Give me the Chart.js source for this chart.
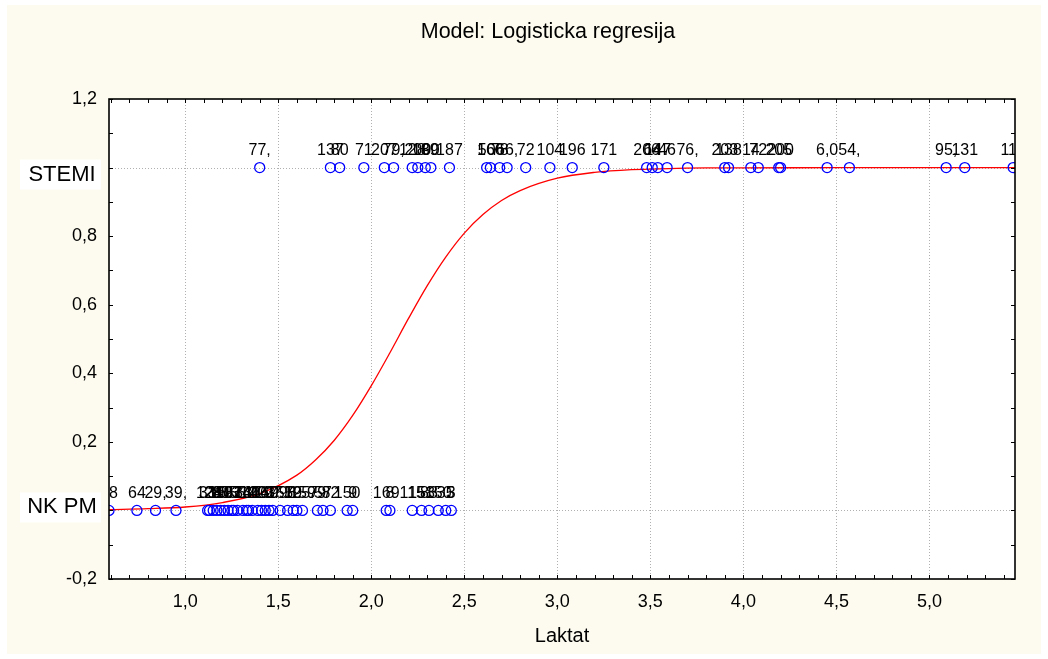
<!DOCTYPE html>
<html>
<head>
<meta charset="utf-8">
<title>Model: Logisticka regresija</title>
<script src="https://cdn.jsdelivr.net/npm/chart.js@4.4.1/dist/chart.umd.min.js"></script>
<style>
  html, body { margin: 0; padding: 0; background: #fff; }
  #wrap { width: 1048px; height: 659px; }
</style>
</head>
<body>
<div id="wrap"><canvas id="myChart" width="1048" height="659"></canvas></div>
<script>
// podaci
const stemiX = [1.40, 1.78, 1.83, 1.96, 2.07, 2.12, 2.22, 2.25, 2.29, 2.32, 2.42,
    2.62, 2.64, 2.69, 2.73, 2.83, 2.96, 3.08, 3.25, 3.48, 3.51, 3.54, 3.59, 3.70,
    3.90, 3.92, 4.04, 4.08, 4.19, 4.20, 4.45, 4.57, 5.09, 5.19, 5.45];
const stemiLabels = ["77,", "137", "80", "71", "207", "79,", "128", "200", "189", "90", "187",
    "50", "166", "78", "66,", "72", "104", "196", "171", "206", "64", "147", "46", "76,",
    "203", "138", "14", "72", "205", "200", "6,0", "54,", "95,", "131", "117"];

const nkpmX = [0.59, 0.74, 0.84, 0.95, 1.12, 1.13, 1.15, 1.17, 1.19, 1.21, 1.23, 1.25,
    1.26, 1.28, 1.31, 1.33, 1.34, 1.36, 1.39, 1.41, 1.43, 1.45, 1.47, 1.51, 1.55, 1.58,
    1.60, 1.63, 1.71, 1.74, 1.78, 1.87, 1.90, 2.08, 2.10, 2.22, 2.27, 2.31, 2.36, 2.40, 2.43];
const nkpmLabels = ["18", "64", "29,", "39,", "33", "124", "28", "16", "85", "99", "107", "13",
    "87", "55", "34", "140", "12", "37", "40", "123", "149", "67", "97", "157", "98", "59",
    "125", "159", "79", "57", "82", "150", "9", "169", "8", "115", "158", "83", "150", "35", "3"];

const stemiY = 1;
const nkpmY = 0;

// logisticka krivulja, ocitano sa slike
const curveX = [0.59, 0.8, 1.0, 1.2, 1.4, 1.6, 1.7, 1.8, 1.9, 2.0, 2.1, 2.2, 2.3, 2.4,
    2.5, 2.6, 2.7, 2.8, 3.0, 3.2, 3.4, 3.6, 3.8, 4.0, 4.5, 5.0, 5.46];
const curveY = [0.002, 0.005, 0.010, 0.023, 0.049, 0.103, 0.147, 0.204, 0.277, 0.364,
    0.460, 0.560, 0.655, 0.739, 0.809, 0.863, 0.904, 0.933, 0.969, 0.986, 0.994, 0.997,
    0.999, 0.999, 1.0, 1.0, 1.0];

const xTicks = [1.0, 1.5, 2.0, 2.5, 3.0, 3.5, 4.0, 4.5, 5.0];
const yTicks = [-0.2, 0, 0.2, 0.4, 0.6, 0.8, 1.0, 1.2];
const yGrid = [0, 1];
const xMin = 0.59;
const xMax = 5.46;

const FONT = "'Liberation Sans', Arial, sans-serif";

function fmt(v) {
    return v.toFixed(1).replace(".", ",");
}

// pozadina, mreza, okvir, oznake
const frame = {
    id: "frame",
    beforeDraw(chart) {
        let c = chart.ctx;
        let a = chart.chartArea;
        c.save();
        c.fillStyle = "#ffffff";
        c.fillRect(0, 0, chart.width, chart.height);
        c.fillStyle = "#fdfbef";
        c.fillRect(7, 5, 1034, 649);
        c.fillStyle = "#ffffff";
        c.fillRect(a.left, a.top, a.right - a.left, a.bottom - a.top);
        c.restore();
    },
    beforeDatasetsDraw(chart) {
        let c = chart.ctx;
        let a = chart.chartArea;
        let xs = chart.scales.x;
        let ys = chart.scales.y;
        c.save();
        c.strokeStyle = "#b0b0b0";
        c.lineWidth = 1;
        c.setLineDash([1, 2]);
        c.beginPath();
        xTicks.forEach((v) => {
            let px = Math.round(xs.getPixelForValue(v)) + 0.5;
            c.moveTo(px, a.top);
            c.lineTo(px, a.bottom);
        });
        yGrid.forEach((v) => {
            let py = Math.round(ys.getPixelForValue(v)) + 0.5;
            c.moveTo(a.left, py);
            c.lineTo(a.right, py);
        });
        c.stroke();
        c.restore();
    },
    afterDatasetsDraw(chart) {
        let c = chart.ctx;
        let a = chart.chartArea;
        let xs = chart.scales.x;
        let ys = chart.scales.y;

        // brojevi iznad tocaka
        c.save();
        c.beginPath();
        c.rect(a.left, 0, a.right - a.left, chart.height);
        c.clip();
        c.fillStyle = "#000";
        c.font = "16px " + FONT;
        c.textAlign = "center";
        c.textBaseline = "alphabetic";
        stemiX.forEach((x, i) => {
            c.fillText(stemiLabels[i], xs.getPixelForValue(x), ys.getPixelForValue(stemiY) - 13);
        });
        nkpmX.forEach((x, i) => {
            c.fillText(nkpmLabels[i], xs.getPixelForValue(x), ys.getPixelForValue(nkpmY) - 12);
        });
        c.restore();

        // okvir
        c.save();
        c.strokeStyle = "#000";
        c.lineWidth = 1.6;
        c.strokeRect(a.left, a.top, a.right - a.left, a.bottom - a.top);

        // crtice
        c.lineWidth = 1;
        c.beginPath();
        for (let i = 6; i <= 54; i++) {
            let px = Math.round(xs.getPixelForValue(i / 10)) + 0.5;
            c.moveTo(px, a.bottom);
            c.lineTo(px, a.bottom - 4);
            c.moveTo(px, a.top);
            c.lineTo(px, a.top + 4);
        }
        for (let i = -2; i <= 12; i++) {
            let py = Math.round(ys.getPixelForValue(i / 10)) + 0.5;
            c.moveTo(a.left, py);
            c.lineTo(a.left + 4, py);
            c.moveTo(a.right, py);
            c.lineTo(a.right - 4, py);
        }
        c.stroke();

        // kategorije na osi y
        c.font = "22px " + FONT;
        c.textAlign = "center";
        c.textBaseline = "middle";
        [["STEMI", stemiY, 7], ["NK PM", nkpmY, -3]].forEach(([txt, v, off]) => {
            let py = ys.getPixelForValue(v) + off;
            c.fillStyle = "#ffffff";
            c.fillRect(20, py - 15, 81, 30);
            c.fillStyle = "#000";
            c.fillText(txt, 62, py);
        });

        // naslov
        c.font = "21.5px " + FONT;
        c.fillText("Model: Logisticka regresija", 548, 32);
        c.restore();
    },
};

let ctx = document.getElementById("myChart").getContext("2d");
let chart = new Chart(ctx, {
    type: "scatter",
    data: {
        datasets: [
            {
                type: "line",
                label: "model",
                data: curveX.map((x, i) => ({ x: x, y: curveY[i] })),
                borderColor: "#ff0000",
                borderWidth: 1.3,
                pointRadius: 0,
                fill: false,
                cubicInterpolationMode: "monotone",
                clip: 0,
                order: 2,
            },
            {
                label: "STEMI",
                data: stemiX.map((x) => ({ x: x, y: stemiY })),
                pointRadius: 5,
                pointBorderColor: "#0000ff",
                pointBackgroundColor: "rgba(0,0,0,0)",
                pointBorderWidth: 1.3,
                clip: 0,
                order: 1,
            },
            {
                label: "NK PM",
                data: nkpmX.map((x) => ({ x: x, y: nkpmY })),
                pointRadius: 5,
                pointBorderColor: "#0000ff",
                pointBackgroundColor: "rgba(0,0,0,0)",
                pointBorderWidth: 1.3,
                clip: 0,
                order: 1,
            },
        ],
    },
    options: {
        responsive: false,
        animation: false,
        devicePixelRatio: 1,
        layout: { padding: { left: 0, top: 99, right: 33, bottom: 0 } },
        plugins: {
            legend: { display: false },
            tooltip: { enabled: false },
        },
        scales: {
            x: {
                type: "linear",
                min: xMin,
                max: xMax,
                afterBuildTicks: (s) => {
                    s.ticks = xTicks.map((v) => ({ value: v }));
                },
                afterFit: (s) => {
                    s.height = 80;
                },
                grid: { display: false, drawTicks: false },
                border: { display: false },
                ticks: {
                    color: "#000",
                    font: { family: FONT, size: 18 },
                    padding: 12,
                    maxRotation: 0,
                    autoSkip: false,
                    callback: (v) => fmt(v),
                },
                title: {
                    display: true,
                    text: "Laktat",
                    color: "#000",
                    font: { family: FONT, size: 20 },
                    padding: { top: 4, bottom: 11 },
                },
            },
            y: {
                type: "linear",
                min: -0.2,
                max: 1.2,
                afterBuildTicks: (s) => {
                    s.ticks = yTicks.map((v) => ({ value: v }));
                },
                afterFit: (s) => {
                    s.width = 109;
                },
                grid: { display: false, drawTicks: false },
                border: { display: false },
                ticks: {
                    color: "#000",
                    font: { family: FONT, size: 18 },
                    padding: 12,
                    autoSkip: false,
                    callback: (v) => (v === 0 || v === 1 ? "" : fmt(v)),
                },
            },
        },
    },
    plugins: [frame],
});
</script>
</body>
</html>
